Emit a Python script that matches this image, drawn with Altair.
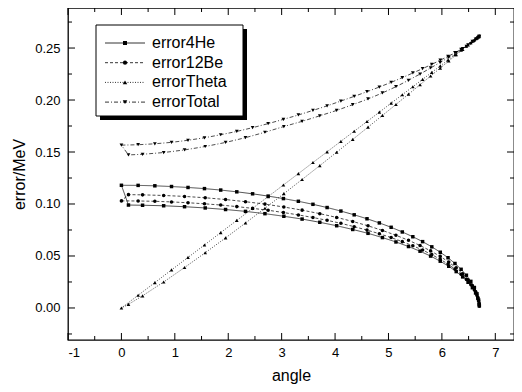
import altair as alt
import pandas as pd

# ---------------- data ----------------
series_names = ["error4He", "error12Be", "errorTheta", "errorTotal"]

# lab angle along the first branch (0 -> max angle) and the second branch (max -> ~0)
angle_a = [0.0, 0.313, 0.626, 0.938, 1.247, 1.555, 1.859, 2.160, 2.456, 2.747, 3.033,
           3.313, 3.586, 3.851, 4.109, 4.358, 4.598, 4.829, 5.050, 5.259, 5.456, 5.639,
           5.811, 5.970, 6.115, 6.245, 6.360, 6.459, 6.542, 6.608, 6.657, 6.688, 6.701]
angle_b = [6.697, 6.673, 6.631, 6.571, 6.490, 6.389, 6.268, 6.128, 5.969, 5.789, 5.591,
           5.375, 5.140, 4.887, 4.617, 4.331, 4.030, 3.714, 3.383, 3.041, 2.687, 2.323,
           1.950, 1.569, 1.182, 0.791, 0.396, 0.132]

he4_a = [0.1180, 0.1179, 0.1175, 0.1168, 0.1159, 0.1148, 0.1134, 0.1117, 0.1098, 0.1076, 0.1052,
         0.1026, 0.0997, 0.0966, 0.0932, 0.0896, 0.0858, 0.0818, 0.0776, 0.0731, 0.0685, 0.0638,
         0.0588, 0.0536, 0.0483, 0.0428, 0.0372, 0.0315, 0.0256, 0.0197, 0.0136, 0.0076, 0.0020]
he4_b = [0.0038, 0.0092, 0.0144, 0.0195, 0.0247, 0.0299, 0.0350, 0.0401, 0.0450, 0.0499, 0.0546,
         0.0591, 0.0635, 0.0677, 0.0718, 0.0755, 0.0791, 0.0824, 0.0855, 0.0882, 0.0907, 0.0929,
         0.0947, 0.0962, 0.0974, 0.0983, 0.0988, 0.0990]

be12_a = [0.1030, 0.1029, 0.1026, 0.1020, 0.1012, 0.1002, 0.0990, 0.0975, 0.0958, 0.0940, 0.0918,
          0.0895, 0.0870, 0.0843, 0.0814, 0.0782, 0.0749, 0.0714, 0.0677, 0.0638, 0.0598, 0.0557,
          0.0513, 0.0468, 0.0422, 0.0374, 0.0325, 0.0275, 0.0224, 0.0172, 0.0119, 0.0067, 0.0018]
be12_b = [0.0042, 0.0101, 0.0158, 0.0215, 0.0272, 0.0329, 0.0386, 0.0441, 0.0496, 0.0549, 0.0601,
          0.0651, 0.0699, 0.0746, 0.0790, 0.0832, 0.0871, 0.0907, 0.0941, 0.0971, 0.0999, 0.1022,
          0.1043, 0.1060, 0.1073, 0.1082, 0.1088, 0.1090]

theta_a = [0.0, 0.0122, 0.0244, 0.0366, 0.0486, 0.0606, 0.0725, 0.0842, 0.0958, 0.1071, 0.1183,
           0.1292, 0.1399, 0.1502, 0.1603, 0.1700, 0.1793, 0.1883, 0.1970, 0.2051, 0.2128, 0.2199,
           0.2266, 0.2328, 0.2385, 0.2436, 0.2480, 0.2519, 0.2551, 0.2577, 0.2596, 0.2608, 0.2613]
theta_b = [0.2619, 0.2608, 0.2590, 0.2565, 0.2530, 0.2487, 0.2435, 0.2375, 0.2307, 0.2231, 0.2147,
           0.2056, 0.1957, 0.1852, 0.1739, 0.1621, 0.1498, 0.1369, 0.1236, 0.1099, 0.0959, 0.0817,
           0.0674, 0.0531, 0.0389, 0.0250, 0.0117, 0.0035]

total_a = [0.1566, 0.1570, 0.1579, 0.1593, 0.1613, 0.1637, 0.1666, 0.1698, 0.1734, 0.1773, 0.1814,
           0.1856, 0.1900, 0.1944, 0.1990, 0.2035, 0.2080, 0.2125, 0.2170, 0.2215, 0.2260, 0.2302,
           0.2343, 0.2383, 0.2420, 0.2455, 0.2487, 0.2516, 0.2543, 0.2567, 0.2588, 0.2604, 0.2613]
total_b = [0.2612, 0.2600, 0.2585, 0.2563, 0.2530, 0.2495, 0.2455, 0.2410, 0.2362, 0.2308, 0.2250,
           0.2190, 0.2128, 0.2068, 0.2010, 0.1955, 0.1900, 0.1848, 0.1795, 0.1745, 0.1690, 0.1638,
           0.1592, 0.1553, 0.1520, 0.1495, 0.1478, 0.1472]

x_major = [-1, 0, 1, 2, 3, 4, 5, 6, 7]
x_minor = [-0.5, 0.5, 1.5, 2.5, 3.5, 4.5, 5.5, 6.5]
y_major = [0.0, 0.05, 0.10, 0.15, 0.20, 0.25]
y_minor = [-0.025, 0.025, 0.075, 0.125, 0.175, 0.225, 0.275]

# ---------------- styling ----------------
W, H = 446, 332
FONT = "Liberation Sans"
shapes = ["square", "circle", "triangle-up", "triangle-down"]
sizes = [12, 14, 16, 16]
dashes = [[1, 0], [3, 2], [1, 1.5], [4, 2, 1, 2]]

rows = []
series_vals = {
    "error4He": (he4_a, he4_b),
    "error12Be": (be12_a, be12_b),
    "errorTheta": (theta_a, theta_b),
    "errorTotal": (total_a, total_b),
}
for name in series_names:
    a_vals, b_vals = series_vals[name]
    xs = angle_a + angle_b + [angle_a[0]]
    ys = a_vals + b_vals + [a_vals[0]]
    n = len(xs)
    for i, (x, y) in enumerate(zip(xs, ys)):
        rows.append({"series": name, "angle": x, "error": y, "order": i, "closing": i == n - 1})
df = pd.DataFrame(rows)
df_pts = df[~df["closing"]]

xscale = alt.Scale(domain=[-1, 7.35], nice=False, zero=False)
yscale = alt.Scale(domain=[-0.0308, 0.2885], nice=False, zero=False)
x_axis = alt.Axis(values=x_major, labelExpr="'' + datum.value", ticks=False,
                  domain=False, grid=False, labelPadding=6, titlePadding=8)
y_axis = alt.Axis(values=y_major, format=".2f", ticks=False, domain=False,
                  grid=False, labelPadding=8, titlePadding=7)


def X(field):
    return alt.X(field, scale=xscale, axis=x_axis, title="angle")


def Y(field):
    return alt.Y(field, scale=yscale, axis=y_axis, title="error/MeV")


lines = alt.Chart(df).mark_line(color="black", strokeWidth=0.7).encode(
    x=X("angle:Q"),
    y=Y("error:Q"),
    detail="series:N",
    strokeDash=alt.StrokeDash("series:N", scale=alt.Scale(domain=series_names, range=dashes),
                              legend=None),
    order="order:Q",
)

points = alt.Chart(df_pts).mark_point(filled=True, color="black", opacity=1).encode(
    x=X("angle:Q"),
    y=Y("error:Q"),
    shape=alt.Shape("series:N", scale=alt.Scale(domain=series_names, range=shapes), legend=None),
    size=alt.Size("series:N", scale=alt.Scale(domain=series_names, range=sizes), legend=None),
)

# inward ticks on all four sides
tick_layers = []
for vals, ln in [(x_major, 7), (x_minor, 4)]:
    d = pd.DataFrame({"v": vals})
    b = alt.Chart(d).mark_rule(color="black", strokeWidth=1)
    tick_layers.append(b.encode(x=X("v:Q"), y=alt.value(H), y2=alt.value(H - ln)))
    tick_layers.append(b.encode(x=X("v:Q"), y=alt.value(0), y2=alt.value(ln)))
for vals, ln in [(y_major, 7), (y_minor, 4)]:
    d = pd.DataFrame({"v": vals})
    b = alt.Chart(d).mark_rule(color="black", strokeWidth=1)
    tick_layers.append(b.encode(y=Y("v:Q"), x=alt.value(0), x2=alt.value(ln)))
    tick_layers.append(b.encode(y=Y("v:Q"), x=alt.value(W), x2=alt.value(W - ln)))

# legend box
one = pd.DataFrame({"k": [0]})
box_l, box_r, box_t, box_b = 28, 175, 17, 108
shadow = alt.Chart(one).mark_rect(fill="black").encode(
    x=alt.value(box_l + 4), x2=alt.value(box_r + 4), y=alt.value(box_t + 4), y2=alt.value(box_b + 4))
box = alt.Chart(one).mark_rect(fill="white", stroke="black", strokeWidth=1).encode(
    x=alt.value(box_l), x2=alt.value(box_r), y=alt.value(box_t), y2=alt.value(box_b))

legend_layers = [shadow, box]
for i, name in enumerate(series_names):
    yc = 35 + 19.7 * i
    ld = pd.DataFrame({"label": [name]})
    rule_kw = dict(color="black", strokeWidth=0.8)
    if dashes[i] != [1, 0]:
        rule_kw["strokeDash"] = dashes[i]
    legend_layers.append(alt.Chart(ld).mark_rule(**rule_kw).encode(
        x=alt.value(37), x2=alt.value(77), y=alt.value(yc)))
    legend_layers.append(alt.Chart(ld).mark_point(filled=True, color="black", opacity=1,
                                                   shape=shapes[i], size=sizes[i] + 4).encode(
        x=alt.value(57), y=alt.value(yc)))
    legend_layers.append(alt.Chart(ld).mark_text(align="left", baseline="middle", font=FONT,
                                                  fontSize=16, color="black").encode(
        x=alt.value(84), y=alt.value(yc), text="label:N"))

chart = alt.layer(lines, points, *tick_layers, *legend_layers).properties(
    width=W, height=H,
    autosize=alt.AutoSizeParams(type="none"),
    padding={"left": 60, "top": 0, "right": 0, "bottom": 44},
    background="white",
).configure_view(
    stroke="black", strokeWidth=1.3
).configure_axis(
    labelFont=FONT, labelFontSize=13, labelColor="black",
    titleFont=FONT, titleFontSize=16, titleFontWeight="normal", titleColor="black",
)

chart.save("out.html", embed_options={"renderer": "svg", "actions": False})
